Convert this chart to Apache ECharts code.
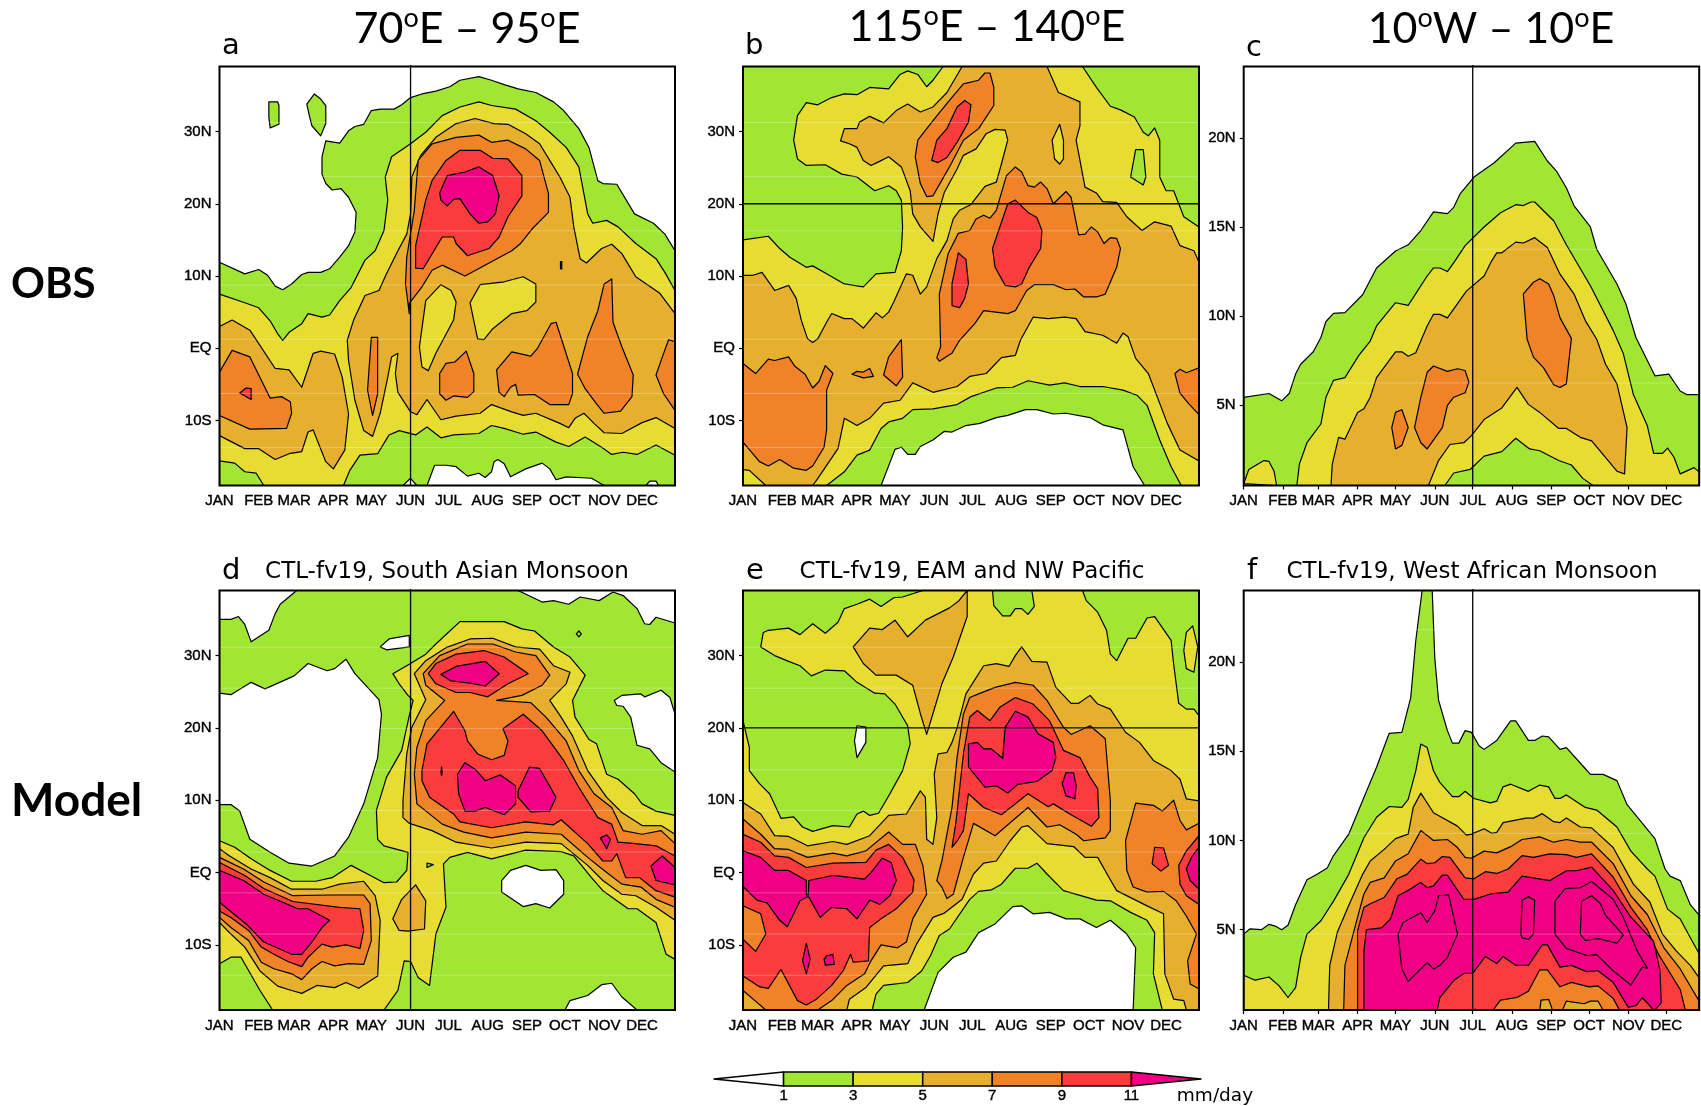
<!DOCTYPE html>
<html><head><meta charset="utf-8">
<style>html,body{margin:0;padding:0;background:#fff}#c{width:1701px;height:1106px}</style>
<script src="https://cdn.jsdelivr.net/npm/echarts@6/dist/echarts.min.js"></script></head>
<body><div id="c"></div>
<script>
const monthLabels=['JAN','FEB','MAR','APR','MAY','JUN','JUL','AUG','SEP','OCT','NOV','DEC'];
const monthDays=[0,31,59,90,120,151,181,212,243,273,304,334];
const latTicksWide=[-10,0,10,20,30];
const latTicksAfrica=[5,10,15,20];
const contourLevels=[1,3,5,7,9,11];
const bandColors={0:'#ffffff',1:'#A0E632',3:'#E6DC32',5:'#E6AF2D',7:'#F08228',9:'#FA3C3C',11:'#F00082'};

// Each entry: [lower contour level in mm/day, outline as [day of year, latitude] pairs]
const panelA=[
[1,[[0,11.9],[20,10.3],[31,10.9],[38,10.1],[44,8.6],[50,8.1],[57,8.9],[65,10.2],[70,10.5],[80,10.5],[87,11],[95,12.6],[102,14.2],[107,16.1],[108,18.8],[102,20.9],[96,22.1],[89,21.9],[84,22.8],[81,24.1],[81,26.5],[84,28.7],[95,28.4],[102,30.1],[107,30.7],[114,31],[120,32.9],[127,33.1],[138,33.1],[144,33.7],[151,34.7],[160,35.2],[171,35.6],[182,36.2],[190,37.1],[205,37.6],[215,37.1],[225,36.5],[236,35.9],[250,35.4],[264,34.1],[272,32.9],[284,30.4],[292,27.8],[299,23.2],[303,22.8],[314,22.7],[328,18.6],[343,17.3],[352,15.8],[360,13.5],[360,-19],[0,-19]]],
[0,[[164,-19],[170,-16.2],[179,-16.2],[187,-16.4],[196,-17.7],[205,-17.3],[210,-17.9],[215,-17.1],[217,-15.7],[220,-15.4],[225,-16],[230,-17.8],[242,-16.7],[255,-15.9],[261,-16.7],[266,-18.2],[274,-17.8],[294,-18],[304,-19]]],
[0,[[145,-19],[151,-18],[156,-19]]],
[0,[[337,-19],[340,-18.4],[345,-18.4],[347,-19]]],
[1,[[39,34.1],[46,34.1],[47,33.6],[47,31],[40,30.5],[39,32]]],
[1,[[69,33.8],[75,35.2],[80,34.5],[84,33.6],[84,31.1],[80,29.4],[73,30.8],[71,32.2]]],
[3,[[0,7.5],[20,6.3],[31,5.6],[40,3.8],[46,2],[50,1.1],[55,2.2],[65,3.4],[70,4.8],[81,4.3],[87,4.6],[95,6.6],[104,8.4],[115,12.2],[123,13.5],[130,16.3],[133,20.5],[131,23.7],[136,26.5],[151,28.3],[163,29.9],[176,32.2],[190,33.4],[205,34.1],[215,33.6],[234,33.1],[250,31.5],[261,29.9],[274,27.8],[284,25.1],[291,18.6],[295,17.3],[306,17.7],[315,16.8],[329,14.5],[345,12.4],[352,10.5],[360,8],[360,-14.8],[345,-13.4],[330,-14.7],[319,-14.4],[310,-14.7],[302,-13.7],[289,-12.3],[276,-13.6],[266,-13],[250,-11.6],[240,-11.9],[225,-11.1],[215,-10.7],[205,-11.8],[185,-12],[175,-12.4],[164,-10.9],[155,-12],[142,-11.4],[134,-12],[125,-14.6],[111,-14.8],[103,-16.9],[98,-19],[35,-19],[29,-17.3],[20,-17.1],[12,-15.9],[0,-15.6]]],
[5,[[0,3],[10,3.9],[24,2.5],[44,-2.8],[55,-3],[65,-5.4],[74,-0.7],[80,-0.4],[91,-0.8],[97,-4],[102,-9.1],[99,-14.1],[90,-16.7],[84,-15.7],[74,-11.3],[70,-11.6],[65,-14.3],[55,-14.6],[44,-15.4],[31,-13.9],[20,-13.9],[0,-12.1]]],
[5,[[101,1.1],[106,3.9],[115,7.3],[126,8],[132,10.3],[141,13.5],[148,15.8],[151,18.6],[152,23.7],[159,26.7],[171,29.2],[187,31.1],[202,31.8],[217,31.1],[228,31],[242,29.7],[253,28.3],[261,26],[269,23.7],[277,20.9],[280,16.8],[285,12.4],[290,11.8],[302,13.8],[310,14.4],[318,13.1],[329,9.9],[348,7.6],[360,4.8],[360,-11.1],[345,-9.6],[334,-10.3],[318,-11.8],[304,-11.7],[296,-10.4],[288,-9],[281,-9.7],[276,-11],[269,-10.4],[250,-9],[240,-9.3],[231,-8.8],[215,-7.8],[206,-9],[187,-9.4],[175,-9.9],[164,-7.1],[156,-9.2],[151,-8.8],[141,-6.1],[139,-3.5],[141,-0.7],[136,-1.2],[133,-4],[127,-9],[121,-12.2],[114,-11.4],[107,-7.2],[102,-1.7]]],
[3,[[158,0.2],[163,6.6],[175,8.8],[183,8],[187,6.4],[185,3.9],[171,-0.7],[165,-3.1],[160,-2.6]]],
[3,[[198,6.3],[206,8.8],[225,9.2],[240,9.9],[250,8.9],[250,6.4],[243,5.2],[231,4.8],[216,2.7],[209,1.2],[204,1.3]]],
[7,[[150,4.8],[147,8.9],[148,12.6],[154,19.1],[157,26],[168,28.3],[187,29.2],[205,29.5],[215,28.5],[228,28.8],[242,27.6],[253,26],[260,21.4],[260,18.8],[247,16.5],[238,14.5],[231,13.5],[212,11.7],[194,10],[176,11.5],[168,10.8],[160,8.5],[150,6.2]]],
[7,[[269.5,11],[270.5,11],[270.5,12],[269.5,12]]],
[7,[[0,-3.3],[10,-0.3],[24,-1.2],[40,-6.9],[49,-6.7],[56,-7.4],[57,-9],[53,-11.1],[24,-11.2],[0,-9.3]]],
[9,[[16,-6.2],[21,-5.5],[25,-5.6],[25,-7.1]]],
[7,[[120,1.5],[125,1.5],[125,-6.3],[121,-9.3],[117,-5.8]]],
[7,[[174,-3.5],[179,-2.1],[186,-1.9],[195,-0.4],[201,-3.5],[201,-6],[196,-6.8],[185,-6.6],[179,-7.2],[174,-6.3]]],
[7,[[219,-3],[231,-0.5],[246,-1.1],[251,-0.1],[262,3.4],[266,3.6],[279,-3.5],[279,-6.3],[276,-7.8],[261,-7.8],[249,-6.4],[236,-6.5],[234,-5],[230,-5.4],[225,-6.7],[221,-6.1]]],
[7,[[283,-3.6],[291,1.6],[299,5.2],[304,8.9],[310,9.6],[311,3.6],[318,0.2],[327,-3.7],[326,-6.7],[317,-8.7],[304,-9],[298,-7.7],[289,-5.6]]],
[7,[[360,0.9],[355,1.2],[350,-1.2],[345,-3.7],[351,-6.3],[360,-8.6]]],
[9,[[155,14.2],[163,20.5],[168,23.2],[179,26],[190,27.4],[206,27.4],[216,26.3],[228,26.2],[239,23.9],[239,21.1],[228,18.2],[221,15.4],[213,13.8],[196,12.8],[187,14.5],[185,15.4],[176,15.4],[161,11],[155,11.1]]],
[11,[[174,21.5],[180,23.9],[194,24.4],[205,25.1],[216,23.9],[221,21.1],[218,18.6],[212,17.5],[205,17.3],[198,18.6],[190,20.7],[185,20.6],[180,19.7],[175,20.5]]]
];

const panelB=[
[1,[[0,-19],[360,-19],[360,39],[0,39]]],
[0,[[109,-19],[120,-14],[125,-13.7],[130,-14.7],[136,-14.7],[140,-13.6],[150,-12.7],[159,-11.5],[165,-11.6],[176,-10.7],[187,-10.4],[200,-9.6],[209,-9.3],[223,-8.5],[232,-8.5],[245,-9.1],[255,-9],[274,-9.6],[284,-10.6],[300,-11.3],[308,-16.4],[317,-19]]],
[3,[[0,15],[20,15.5],[29,13.8],[37,12.6],[50,11.2],[55,11.4],[66,10.3],[80,8.9],[95,8.5],[105,10.3],[120,10.5],[125,13.5],[126,16.8],[125,20.5],[121,21.8],[115,22.5],[104,21.8],[90,23.7],[78,24.1],[65,25.4],[50,25.3],[43,26.2],[40,28.8],[43,32.2],[50,34],[59,33.7],[70,34.7],[80,35.2],[90,35.1],[100,36.1],[115,35.9],[124,37.9],[130,38.4],[138,37.9],[145,36.2],[150,37.1],[158,39],[268,39],[279,36.1],[290,33.5],[298,33],[309,32],[316,29.9],[320,29.4],[325,30.5],[329,28.8],[329,23.7],[334,21.8],[340,21.8],[348,18.2],[360,16.8],[360,-19],[346,-19],[338,-16.4],[329,-12.7],[319,-7.9],[311,-6.5],[300,-5.8],[284,-5.3],[266,-5.3],[254,-4.8],[242,-5.1],[225,-4.5],[213,-5.4],[200,-5.5],[180,-6.7],[169,-7.8],[150,-8.4],[134,-8.5],[126,-9.7],[115,-10.2],[109,-11.1],[100,-14.1],[90,-14.8],[80,-17.1],[66,-19],[0,-19]]],
[1,[[306,23.7],[310,27.5],[316,27.5],[318,23.7],[316,22.6]]],
[5,[[0,10.1],[8,10.1],[15,10.5],[25,8],[36,8.7],[42,6.9],[46,3.9],[51,1.3],[55,0.8],[59,1.3],[66,3.6],[70,4.8],[80,4.1],[86,4.1],[95,2.8],[105,4.9],[110,4.2],[115,5],[119,6.4],[129,10.3],[134,10.1],[140,7.5],[145,8.5],[153,12.4],[161,14.9],[166,17.9],[171,19.1],[180,19.9],[191,22.4],[200,23],[204,25.5],[209,28.8],[207,30.2],[199,30.3],[192,29.7],[184,27.6],[174,26.7],[169,24.8],[159,21.6],[154,18.6],[150,14.8],[140,16.8],[134,18.6],[132,21.8],[125,25.1],[115,26.5],[107,25.8],[101,25.3],[95,26],[90,27.8],[84,28.3],[77,28.7],[80,30.4],[90,30.4],[92,31.3],[100,32.1],[111,31.2],[121,32.9],[130,33.8],[140,32.7],[150,33.4],[161,35.4],[173,39],[240,39],[249,35.4],[266,34.1],[266,30.8],[263,28.8],[270,22.3],[279,21.5],[284,20.3],[295,20.2],[303,18.2],[315,16.3],[325,17.5],[338,16.9],[345,14.2],[356,13.5],[360,11.9],[360,-15.6],[345,-14.1],[335,-10.4],[320,-3.5],[310,-1.4],[304,1.6],[300,2.1],[295,0.7],[284,1.8],[270,2.3],[263,4.1],[254,4.3],[241,4.1],[229,4.3],[219,1.1],[215,-1],[204,-1.3],[192,-3.5],[179,-3.9],[169,-5.3],[150,-6.1],[134,-4.8],[124,-7.2],[111,-7.6],[100,-9.7],[90,-10.7],[80,-9.7],[75,-13.9],[58,-18.3],[55,-19],[18,-19],[5,-16.9],[0,-16.8]]],
[3,[[244,28.8],[250,31],[253,28.8],[253,26.2],[250,25.5],[246,26.2]]],
[7,[[136,26.5],[138,28.8],[150,31.5],[163,34.3],[174,36.6],[186,37.1],[191,38.1],[195,38.1],[198,36.1],[198,33.6],[186,30.4],[174,28.8],[163,25.1],[150,21.1],[145,21],[140,22.8]]],
[9,[[149,26],[153,28.8],[161,30.4],[169,33.4],[175,34.3],[180,33.7],[178,31.3],[169,28.5],[161,26.4],[154,25.7]]],
[7,[[153,-1.3],[156,0.2],[155,7.5],[162,13.1],[170,15.9],[179,16.3],[184,17.9],[190,18.4],[195,18],[200,19.1],[208,23.9],[215,25.1],[220,24.4],[225,22.5],[230,22.3],[235,23],[240,22.1],[245,20],[255,21.7],[259,20.9],[265,15.7],[270,15.8],[275,16.8],[280,16.1],[285,14.5],[290,15.3],[295,15.2],[298,13.8],[295,11.2],[286,7.5],[279,7.1],[269,7.1],[262,8.2],[255,8.1],[245,8.8],[230,8.8],[224,8],[215,5.2],[209,4.8],[190,5.2],[183,3.4],[171,1.1],[165,-0.7],[162,-1],[155,-1.8]]],
[9,[[165,8.9],[170,13.2],[176,12.3],[178,8.9],[175,6.9],[171,5.6],[165,5.9]]],
[9,[[197,13.8],[209,20],[215,20.5],[225,18.8],[232,18.1],[236,16.3],[235,13.8],[226,11.2],[220,8.9],[215,8.5],[207,8.7],[199,11.2]]],
[7,[[86,-3.6],[90,-3.2],[95,-3.3],[100,-2.8],[103,-3.9],[95,-4.1]]],
[7,[[111,-3.7],[115,-1.2],[125,1.2],[126,-4],[121,-5.2]]],
[7,[[0,-2.1],[10,-3.5],[20,-1.5],[25,-1.7],[36,-1.2],[41,-2.5],[49,-3.6],[55,-5.5],[60,-4.6],[65,-2.4],[71,-3.5],[66,-5.8],[66,-11.3],[64,-13.7],[55,-16.3],[50,-16.9],[40,-16.6],[29,-15.4],[20,-16.3],[13,-15.7],[0,-13]]],
[7,[[341,-3.5],[345,-2.9],[350,-3.4],[360,-2.7],[360,-9.2],[352,-7.7],[345,-6.2]]]
];

const panelC=[
[1,[[0,5.44],[20,5.66],[30,5.25],[36,5.66],[41,6.75],[45,7.3],[55,8],[61,8.8],[65,9.7],[71,10.15],[80,10.2],[94,11.2],[105,12.7],[120,13.65],[130,14],[140,14.8],[150,15.85],[161,15.75],[166,16.1],[171,16.85],[182,17.8],[198,18.6],[215,19.7],[230,19.8],[240,18.7],[247,18.15],[255,17.2],[261,16.2],[274,15],[279,13.75],[295,11.8],[302,10.7],[310,8.8],[325,6.65],[336,6.75],[345,5.8],[350,5.6],[360,5.6],[360,0.5],[0,0.5]]],
[3,[[0,0.6],[4,1.4],[16,1.9],[20,1.85],[24,1.3],[26,0.5]]],
[3,[[42,0.5],[44,1.7],[50,2.9],[61,3.95],[65,5.45],[71,6.4],[80,6.55],[91,7.8],[100,8.6],[105,9.45],[120,10.75],[130,10.6],[145,12.25],[150,12.7],[155,12.7],[161,12.5],[167,13.1],[175,13.95],[190,15],[203,15.8],[215,16.25],[221,16.2],[227,16.4],[230,16.4],[245,15.35],[255,14],[274,11.7],[292,9.2],[300,7.9],[308,5.6],[319,3.85],[324,2.3],[331,2.3],[335,2.6],[340,2.1],[345,1.15],[356,1.5],[360,1.25],[360,0.5]]],
[1,[[159,0.5],[166,1.2],[179,1.4],[190,2.15],[204,2.4],[215,3.15],[226,2.55],[234,2.45],[249,1.9],[259,1.65],[268,0.9],[276,0.5]]],
[5,[[69,0.5],[70,1.7],[75,3.2],[80,3.1],[90,4.6],[95,4.8],[100,5.45],[105,6.55],[120,8],[125,8],[130,7.75],[136,7.95],[145,9.45],[150,10.1],[155,10.1],[161,9.9],[176,11.4],[190,12.25],[196,13.1],[200,13.55],[204,13.55],[215,14.15],[221,14.1],[230,14.4],[240,13.85],[250,12.35],[261,11.25],[270,9.75],[279,8.7],[286,7.3],[295,6.2],[303,3.75],[301,1.15],[295,1.3],[275,3],[266,3.2],[255,3.7],[249,3.7],[234,4.6],[225,5.05],[216,6],[204,4.85],[190,4.2],[180,3.3],[174,2.9],[163,2.8],[154,1.9],[146,0.5]]],
[7,[[117,3.75],[120,4.6],[125,4.75],[130,3.75],[125,2.75],[120,2.55]]],
[7,[[135,3.75],[140,5.45],[145,6.85],[150,7.2],[161,6.9],[169,7.05],[175,6.95],[178,6.3],[175,5.7],[166,5.45],[161,5],[157,3.75],[145,2.55],[140,2.9]]],
[7,[[221,11.25],[229,11.9],[234,12.1],[241,11.8],[245,11.15],[250,9.9],[259,8.75],[255,6.2],[250,6],[245,6.15],[237,7.1],[229,7.7],[224,8.7]]]
];

const panelD=[
[1,[[0,-19],[360,-19],[360,39],[0,39]]],
[0,[[0,39],[61,39],[48,37.1],[44,35.8],[39,33.5],[25,31.9],[20,34.3],[15,35.4],[9,35],[0,35]]],
[0,[[236,39],[255,37.4],[264,37.6],[276,37.1],[285,38.1],[300,37.6],[311,38.8],[319,38.3],[330,36.5],[336,34.4],[340,34.3],[345,35.3],[360,34.5],[360,39]]],
[0,[[127,31.2],[134,32.3],[150,32.8],[150,31.2],[132,30.8]]],
[0,[[0,24.8],[9,24.6],[25,26.3],[36,25.4],[59,27.2],[70,28.9],[85,27.9],[91,28.2],[100,29.5],[107,27.5],[126,23.9],[128,21.9],[125,15.9],[114,9.5],[102,4.9],[91,2.3],[73,0.9],[55,1.3],[40,2.8],[24,4.6],[16,8.5],[9,9.4],[0,9.4]]],
[0,[[312,23.8],[318,24.5],[333,24.7],[336,24.3],[349,25.2],[356,24.2],[360,21.9],[360,13.9],[349,15.2],[340,17.1],[330,17.6],[325,21.5],[319,23],[314,23.1]]],
[0,[[223,-1.1],[230,0.3],[242,1],[254,0.3],[266,0.4],[272,-1.1],[272,-3],[261,-4.9],[250,-4.3],[240,-4.7],[223,-2.7]]],
[0,[[273,-19],[277,-17.7],[291,-17],[302,-15.5],[310,-15.3],[318,-17.2],[330,-19]]],
[1,[[282,33],[284,33.4],[286,33],[284,32.6]]],
[3,[[0,4.4],[12,3.5],[25,1.9],[40,0.3],[57,-1.2],[76,-1.2],[89,-0.7],[104,1],[117,-0.2],[130,-1.4],[140,-1.3],[148,0.3],[149,2.8],[130,3.7],[125,4.6],[124,8.6],[132,13.2],[144,16.9],[150,21.7],[153,23.8],[149,24.5],[142,26.1],[137,27.5],[150,28.8],[163,30.2],[171,31.6],[190,34.7],[225,34.7],[239,33.7],[249,33.4],[264,31.2],[277,29.8],[289,27.3],[279,23.8],[281,21.5],[292,18.4],[298,17.8],[306,13.6],[315,12.9],[328,10.9],[334,9.5],[345,8.5],[360,7.9],[360,-12],[353,-11.3],[345,-6.9],[330,-5],[323,-5],[303,-2.5],[294,-0.7],[280,2.3],[270,2.9],[242,3.1],[215,1.9],[196,2.8],[182,2.1],[177,1.2],[179,-4.8],[171,-8.5],[166,-15.6],[157,-14.5],[151,-12.3],[146,-12.2],[141,-16.3],[130,-19],[42,-19],[32,-16.3],[17,-11.7],[9,-11.7],[0,-12.6]]],
[1,[[164,1.3],[169,1.1],[164,0.7]]],
[5,[[0,3.3],[8,2.3],[25,0.5],[40,-0.7],[57,-2.3],[81,-2.3],[95,-1.6],[114,-1.2],[123,-3.2],[127,-6.6],[125,-14.3],[110,-16],[100,-15.2],[91,-15.9],[77,-15.6],[65,-16.7],[57,-16.3],[46,-15.7],[32,-13.6],[20,-10.3],[9,-8.5],[0,-6.9]]],
[7,[[0,2.1],[19,0.5],[35,-1.3],[58,-3.2],[89,-3.1],[114,-3.1],[119,-4.3],[120,-9.4],[114,-12.7],[102,-12.6],[91,-12.9],[81,-12.3],[73,-13.3],[65,-14.8],[57,-14],[43,-13.3],[33,-12.4],[23,-9.4],[9,-7.6],[0,-6.2]]],
[9,[[0,1.4],[20,-0.4],[35,-2.2],[58,-4],[95,-4.8],[111,-5],[114,-8],[111,-10.5],[100,-10],[89,-10.3],[81,-9.9],[70,-11.7],[65,-13],[54,-12.3],[43,-11.3],[33,-10.3],[23,-8],[9,-6.2],[0,-5.3]]],
[11,[[0,0.3],[19,-1.1],[35,-3],[62,-5],[70,-5],[87,-6.6],[81,-7.6],[73,-9.6],[65,-11.3],[57,-11.3],[35,-9.6],[21,-7.1],[0,-4.1]]],
[5,[[137,-6.4],[144,-3.7],[155,-1.7],[163,-3.9],[162,-7.8],[149,-8.1],[142,-8]]],
[5,[[145,7.6],[145,9.9],[148,16.4],[152,20.1],[163,23.9],[154,27.5],[163,29.3],[179,31.1],[198,32.3],[216,32.4],[234,31.2],[253,30.9],[264,28.6],[277,27.7],[274,26.1],[261,23.8],[270,21.5],[279,18.9],[291,14.1],[306,10.4],[318,8.3],[334,6.5],[349,6.5],[360,5.3],[360,-6.6],[345,-4.8],[329,-3.2],[318,-3],[303,-1.1],[291,1],[270,4],[242,4.2],[215,3.4],[187,4.2],[168,5.8],[150,6.8]]],
[7,[[154,13.6],[156,17.3],[163,21],[178,23.8],[163,25.9],[161,27.5],[174,30],[196,31.6],[216,31.6],[234,30.5],[250,30],[261,27.3],[255,25.9],[239,24.5],[219,23.8],[246,23.5],[258,21.5],[274,18.2],[284,14.1],[296,10.9],[310,9],[319,5.8],[334,5.3],[349,5.8],[360,4],[360,-4.8],[345,-3.7],[333,-2],[318,-1.6],[304,0.3],[291,2.1],[270,5.3],[242,5.6],[215,4.8],[193,5.6],[176,6.7],[156,9.5]]],
[9,[[165,27.5],[171,28.9],[187,30.2],[209,30.7],[225,29.8],[244,27.5],[228,26.1],[212,24.3],[198,24.9],[187,24.9],[171,26.1]]],
[11,[[175,27.4],[187,28.5],[210,29.2],[221,27.5],[210,25.8],[198,26.2],[183,26.5]]],
[9,[[160,14.1],[164,17.8],[185,22.3],[194,19.6],[196,18.2],[204,16.4],[215,15.6],[225,16.2],[228,18.2],[224,19.9],[240,21.9],[255,19.6],[272,15.5],[284,11.8],[299,7.6],[310,6.7],[315,4.2],[329,4],[345,3.7],[360,2.3],[360,-3.4],[345,-2.5],[332,-0.7],[321,-0.7],[314,2.6],[310,1.6],[303,1.6],[291,4],[270,7.3],[264,6.6],[242,7],[215,6.2],[190,7],[185,8.1],[166,10.4],[160,12.7]]],
[11,[[188,13.6],[194,15.2],[202,14.3],[210,12.7],[222,13.5],[234,12],[234,9.5],[225,8],[210,9],[202,8.5],[194,8.5],[189,10.9]]],
[11,[[236,11.3],[245,14.6],[253,14.4],[266,10.4],[261,8.5],[246,8.4],[236,10.4]]],
[11,[[301,4.8],[306,5.2],[309,4.6],[306,3.3]]],
[11,[[341,0.9],[350,2.3],[360,0.7],[360,-1.7],[345,-1.1]]],
[11,[[175,14],[175.5,14.6],[176,14],[175.5,13.4]]]
];

const panelE=[
[1,[[0,-19],[360,-19],[360,39],[0,39]]],
[0,[[143,-19],[154,-13.8],[166,-11.7],[176,-11],[186,-8.3],[199,-7.1],[213,-4.7],[220,-4.6],[229,-5.7],[242,-5.5],[255,-6.4],[266,-6.4],[279,-7.6],[290,-6.6],[303,-8.5],[310,-10.4],[308,-19]]],
[0,[[88,18.2],[90,20.3],[97,20.1],[97,18],[90,15.9]]],
[3,[[0,21],[5,17.3],[5,14.1],[13,12.3],[21,10.9],[30,7.5],[40,7.7],[47,6.3],[55,5.7],[71,6.5],[84,6.3],[90,8.1],[95,8.5],[100,7.9],[107,8.2],[116,10.9],[126,14.1],[132,17.8],[130,20.3],[120,23.3],[112,24.7],[104,24.8],[90,26.3],[80,27.9],[65,28],[54,27.2],[45,28.6],[36,29.2],[25,30],[14,31.2],[16,33.2],[20,33.5],[36,33.8],[45,32.9],[55,34.4],[65,33.1],[75,34.6],[80,36.5],[90,37.1],[100,37.8],[109,36.8],[119,38],[126,38.1],[142,39],[268,39],[271,37.6],[280,36],[287,33.5],[290,30.2],[295,29.3],[304,32.4],[310,32.4],[319,35.2],[325,35.4],[338,32.1],[340,28.8],[344,23.4],[350,22.6],[356,22.6],[360,21.7],[360,-19],[331,-19],[324,-14],[325,-8.3],[319,-6.6],[306,-5.5],[290,-3.9],[279,-3.8],[253,-2.5],[240,-0.2],[232,1.3],[225,0.6],[215,0.6],[204,-1.6],[196,-2.4],[186,-2.6],[179,-3.7],[163,-7.8],[155,-8.7],[148,-11.5],[141,-13.6],[130,-15.2],[111,-15.6],[105,-16.8],[102,-19],[0,-19]]],
[1,[[197,39],[198,36.9],[205,35.5],[211,35.5],[215,36.5],[220,36.5],[225,35.7],[230,36.8],[228,39]]],
[3,[[348,30.7],[350,33.2],[355,34.1],[359,31.2],[356,27.7],[350,28.2]]],
[5,[[87,31.2],[95,32.8],[100,33.8],[110,33.6],[120,34.9],[130,32.6],[144,34.9],[163,36.6],[170,37.5],[177,39],[177,35.4],[166,29.8],[157,26.1],[150,22],[145,19.1],[140,22],[134,25.9],[121,27.3],[105,27.3],[95,28.9]]],
[5,[[0,9.7],[14,8.1],[25,5.1],[36,5],[51,3.7],[71,4.3],[82,3.9],[100,5.1],[115,7.9],[129,8.1],[140,11.3],[144,10.4],[145,4.6],[150,3.9],[153,7.6],[151,13.6],[154,16.4],[161,16.6],[165,18],[169,20],[176,24.7],[190,28.6],[200,28.9],[210,28.5],[215,30],[220,31.2],[228,29.2],[240,29.1],[247,25.6],[259,23.4],[265,23.4],[274,24.5],[280,23.3],[290,22.6],[302,19.4],[313,18],[324,15.5],[338,14.1],[345,12.9],[350,10.2],[360,9.9],[360,-19],[350,-19],[348,-17.7],[340,-17.5],[333,-14],[332,-5.7],[319,-4.6],[295,-2.5],[291,-1.3],[280,2.1],[270,2.1],[261,3.6],[240,4],[225,6.5],[220,6.3],[211,4.4],[200,1.6],[190,1.3],[182,-0.2],[173,-3.7],[159,-5.6],[150,-6.2],[137,-9.9],[130,-12.6],[111,-12.9],[97,-15.9],[84,-17.5],[82,-19],[0,-19]]],
[7,[[0,7.4],[14,5.3],[25,3.3],[36,3.2],[51,2.1],[71,2.7],[82,2.3],[97,3],[115,5.6],[126,3.9],[136,3.9],[142,1],[145,-3],[134,-6.4],[129,-9.6],[122,-10.4],[109,-10],[101,-12.2],[96,-14],[82,-15.6],[70,-17.7],[59,-19],[18,-19],[8,-17.5],[0,-16.3]]],
[7,[[153,-1.1],[157,1.6],[165,9],[169,15.9],[174,21.9],[179,24.2],[186,24.7],[199,25.6],[215,26.3],[229,25.9],[240,23.8],[253,20.1],[259,19.1],[274,20.3],[286,18.5],[290,9.9],[290,5.8],[286,4.8],[269,4.4],[263,5.3],[250,6.6],[240,6.3],[225,9],[213,7.2],[199,5.1],[182,6.8],[174,2.1],[166,-3],[161,-3.6],[157,-2]]],
[7,[[302,4.4],[310,9.6],[324,9.3],[331,8.5],[340,10],[345,7.2],[350,5.9],[360,6.8],[360,-16.1],[353,-15.4],[351,-12.2],[358,-8.5],[350,-6],[342,-3.9],[332,-2.6],[319,-2.7],[308,-2],[303,0.3]]],
[9,[[165,3.5],[168,6.8],[174,16.4],[179,21.5],[185,22.4],[195,21],[203,22.9],[215,24.2],[229,23.3],[242,21],[253,16.9],[266,15.9],[274,13.2],[280,11.6],[281,7.6],[275,6.4],[258,8.1],[245,9.5],[241,9.1],[225,10.9],[215,9.5],[204,8],[190,9],[178,10.9],[174,5.8],[170,4.6]]],
[11,[[178,17.8],[185,18],[190,17.1],[196,17.1],[205,15.8],[207,20.1],[215,22.3],[225,21.5],[233,19.2],[245,18],[247,15.9],[244,14.1],[232,12.6],[217,12.2],[209,11],[200,12],[191,11.8],[178,14.6]]],
[11,[[252,12.3],[255,13.8],[261,13.8],[263,12],[262,10.2],[255,10.6]]],
[9,[[0,5.3],[14,4.2],[25,2.3],[36,2.1],[50,0.7],[71,1.3],[97,1.4],[105,3.1],[115,3.9],[126,2.1],[135,-1],[134,-2.7],[121,-5],[109,-6.4],[100,-7.6],[99,-12.2],[87,-12.4],[85,-11.3],[79,-13.6],[70,-15.6],[58,-17.5],[50,-18.3],[43,-17.7],[30,-13.4],[20,-16],[13,-15.8],[0,-14.3]]],
[7,[[0,-4.6],[14,-5.7],[18,-8.5],[10,-10.9],[0,-9.2]]],
[11,[[0,3],[14,2.1],[25,0.3],[36,0.3],[50,-1.1],[50,-3.1],[51.5,-3.1],[52,-1.1],[71,-0.4],[96,-0.9],[101,0],[110,2],[117,1.4],[121,-1.1],[116,-3.2],[108,-4.4],[100,-3.8],[90,-6.4],[82,-5],[70,-4.8],[61,-6.2],[52,-3.4],[50,-3.4],[45,-3.9],[35,-7.5],[29,-6.6],[19,-4.2],[11,-3.8],[0,-1.9]]],
[11,[[47,-12.2],[50,-9.8],[53,-12],[50,-14]]],
[11,[[64,-12],[66,-11.5],[71,-11.3],[72,-12.7],[65,-12.8]]],
[9,[[344,1],[350,3],[360,5.1],[360,-4.4],[350,-3.2],[345,-1.6]]],
[11,[[350,0.5],[354,2.1],[360,3.5],[360,-2.3],[353,-1.1]]],
[9,[[323,1.2],[325,3.5],[332,3.4],[336,1],[330,0.2]]]
];

const panelF=[
[1,[[0,4.75],[5,5.05],[14,5],[20,5.3],[25,5.2],[30,5],[35,5.25],[41,6.4],[50,7.8],[58,8.1],[66,8.45],[71,9.15],[83,10.35],[95,12.4],[105,14.1],[115,16],[125,16.05],[132,18],[136,21.2],[141,24],[149,24],[151,20.25],[154,17.85],[161,16.15],[165,15.45],[170,15.45],[175,16.15],[180,16.05],[186,15.3],[190,15.1],[200,15.6],[211,16.7],[215,16.7],[225,15.6],[230,15.6],[236,15.85],[241,15.8],[250,15.1],[255,15.2],[269,14.1],[274,13.7],[284,13.7],[295,13.35],[303,12],[325,10.1],[333,8.4],[337,8],[345,7.75],[353,6.4],[360,5.8],[360,0.5],[0,0.5]]],
[3,[[0,2.45],[9,2.17],[20,2.35],[28,1.85],[35,1.2],[41,1.75],[45,3.45],[50,4.75],[61,5.5],[71,6.6],[83,8.1],[95,10.15],[105,11.3],[115,11.9],[125,11.85],[130,12.3],[136,13.9],[140,15.4],[145,15.2],[150,13.9],[155,13.25],[165,12.45],[170,12.45],[175,12.75],[182,12.35],[195,12.1],[200,12.2],[205,13],[211,13.15],[225,12.75],[234,13.1],[241,13],[246,12.35],[250,12.35],[255,12.55],[270,11.85],[279,11.7],[295,10.75],[306,9.4],[319,8.4],[325,8],[335,6.15],[345,5.6],[353,4.55],[360,3.65],[360,0.5],[0,0.5]]],
[5,[[67,0.5],[68,3],[74,4.85],[83,6.35],[94,8.1],[100,8.85],[111,9.5],[120,10.1],[130,10.35],[134,11.85],[140,12.65],[150,11.55],[169,10.8],[176,10.3],[180,10.35],[190,10.65],[196,10.4],[200,10.45],[205,11],[216,11.15],[223,11.25],[229,11.25],[236,11.5],[245,11.05],[250,11],[255,11.25],[266,10.75],[275,10.7],[292,9.6],[308,7.55],[321,6.55],[331,4.75],[342,3.8],[353,3],[360,2.3],[360,0.5]]],
[7,[[79,0.5],[80,3],[90,5.7],[95,7],[100,7.65],[111,7.9],[120,8.85],[130,9.25],[140,10.55],[150,10],[161,10.05],[169,9.6],[175,9.05],[180,9],[190,9.4],[200,9.3],[211,9.65],[220,10.05],[234,10.2],[245,9.9],[255,10.05],[266,9.9],[275,9.9],[292,8.7],[306,6.9],[319,5.85],[332,4],[345,2.8],[360,1],[360,0.5]]],
[9,[[90,0.5],[90,4.95],[95,6.25],[100,6.45],[111,6.8],[121,7.85],[129,8.1],[140,8.95],[145,8.7],[151,8.75],[157,9.1],[163,9.05],[175,7.9],[182,7.85],[191,8.25],[200,8.15],[209,8.4],[220,9.15],[229,9.05],[242,9.25],[255,9.2],[263,9.05],[275,9.25],[292,7.95],[306,6.25],[319,5],[328,3.6],[345,1.65],[349,0.5]]],
[11,[[95,0.5],[95,3.8],[97,5],[109,5.1],[116,5.6],[122,6.9],[130,7.2],[140,7.65],[145,7.35],[150,7.45],[157,8.05],[161,8.05],[174,6.7],[182,6.7],[195,7],[209,7.1],[220,8],[242,7.75],[255,8.3],[263,8.3],[275,8.5],[292,7.2],[306,5.7],[324,4.35],[329,2.7],[330,0.9],[325,0.5]]],
[9,[[153,0.5],[155,1.2],[166,2.15],[174,2.55],[181,2.55],[191,3.5],[200,3.1],[205,3.5],[215,3],[225,3],[236,4.15],[240,4.15],[250,2.9],[259,3],[271,2.65],[280,2.7],[292,2.05],[304,0.65],[310,0.75],[315,1.2],[324,0.5]]],
[7,[[197,0.5],[203,1.05],[216,1.2],[225,1.55],[234,2.75],[240,2.75],[250,1.8],[259,2.05],[273,1.8],[280,1.85],[292,1.15],[297,0.5]]],
[5,[[234,0.5],[235,1.05],[241,1.1],[244,0.5]]],
[5,[[252,0.5],[255,1],[269,0.85],[274,1],[280,1],[284,0.5]]],
[11,[[122,4.75],[126,5.4],[140,5.95],[145,5.4],[151,6.05],[154,6.9],[162,6.95],[169,4.75],[161,3.45],[155,3],[150,2.8],[145,3.15],[130,2.1],[125,2.8]]],
[11,[[219,4.75],[220,6.65],[225,6.85],[230,6.65],[229,4.75],[225,4.45],[220,4.55]]],
[11,[[246,6.6],[254,7.3],[266,7.35],[275,7.7],[292,6.7],[300,5.7],[311,3.8],[319,2.85],[315,2.9],[306,1.9],[292,2.7],[279,3.6],[271,3.55],[255,3.95],[246,4.75]]],
[11,[[266,4.75],[267,6.6],[275,6.9],[282,6.45],[286,5.8],[300,4.7],[295,4.25],[280,4.5],[270,4.4]]]
];

// Faint resampling seams of the source image, by latitude
const seamLatsTop=[-13.75,-6.25,1.25,8.75,16.25,23.75,31.25];
const seamLatsBottom=[-14.2,-8.5,-2.8,2.85,8.6,14.2,19.9,25.5,31.15];
const seamLatsC=[6.25,13.75,21.25];
const seamLatsF=[4.75,10.4,21.8];

const panels=[
 {data:panelA,left:219.5,top:66.5,w:455.5,h:419,yMin:-19,yMax:39,ticks:latTicksWide,seams:seamLatsTop,vRef:151},
 {data:panelB,left:743,top:66.5,w:456,h:419,yMin:-19,yMax:39,ticks:latTicksWide,seams:seamLatsTop,hRef:20},
 {data:panelC,left:1243.7,top:66.5,w:455.5,h:419,yMin:0.5,yMax:24,ticks:latTicksAfrica,seams:seamLatsC,vRef:181},
 {data:panelD,left:219.5,top:590.5,w:455.5,h:419.5,yMin:-19,yMax:39,ticks:latTicksWide,seams:seamLatsBottom,vRef:151},
 {data:panelE,left:743,top:590.5,w:456,h:419.5,yMin:-19,yMax:39,ticks:latTicksWide,seams:seamLatsBottom,hRef:20},
 {data:panelF,left:1243.7,top:590.5,w:455.5,h:419.5,yMin:0.5,yMax:24,ticks:latTicksAfrica,seams:seamLatsF,vRef:181}
];

const axisFont={fontFamily:'Liberation Sans',fontSize:15,color:'#000',textBorderColor:'#000',textBorderWidth:0.4};
const latName=v=>v===0?'EQ':(v<0?(-v)+'S':v+'N');
const grids=[],xAxes=[],yAxes=[],series=[];
panels.forEach((p,i)=>{
  grids.push({left:p.left,top:p.top,width:p.w,height:p.h,show:false});
  xAxes.push({type:'value',gridIndex:i,min:0,max:360,splitLine:{show:false},
    axisLine:{show:false},
    axisTick:{show:true,customValues:monthDays,length:4,lineStyle:{color:'#000',width:1.2}},
    axisLabel:Object.assign({show:true,customValues:monthDays,margin:8,formatter:v=>monthLabels[monthDays.indexOf(v)]||''},axisFont)});
  yAxes.push({type:'value',gridIndex:i,min:p.yMin,max:p.yMax,splitLine:{show:false},
    axisLine:{show:false},
    axisTick:{show:true,customValues:p.ticks,length:4,lineStyle:{color:'#000',width:1.2}},
    axisLabel:Object.assign({show:true,customValues:p.ticks,margin:8,formatter:latName},axisFont)});
  series.push({type:'custom',xAxisIndex:i,yAxisIndex:i,clip:true,silent:true,z:2,animation:false,
    data:p.data.map(d=>d[1][0]),encode:{x:0,y:1},
    renderItem:(params,api)=>{
      const poly=p.data[params.dataIndex];
      return {type:'polygon',shape:{points:poly[1].map(q=>api.coord(q))},
        style:{fill:bandColors[poly[0]],stroke:'#000',lineWidth:1.2,lineJoin:'round'}};
    }});
  series.push({type:'custom',xAxisIndex:i,yAxisIndex:i,clip:true,silent:true,z:3,animation:false,
    data:p.seams.map(l=>[0,l]),encode:{x:0,y:1},
    renderItem:(params,api)=>{
      const a=api.coord([0,api.value(1)]),b=api.coord([360,api.value(1)]);
      return {type:'line',shape:{x1:a[0],y1:a[1],x2:b[0],y2:b[1]},style:{stroke:'rgba(255,255,255,0.28)',lineWidth:1}};
    }});
  const refPt=p.vRef!==undefined?[p.vRef,p.yMax]:[0,p.hRef];
  series.push({type:'custom',xAxisIndex:i,yAxisIndex:i,clip:false,silent:true,z:4,animation:false,
    data:[refPt],encode:{x:0,y:1},
    renderItem:(params,api)=>{
      let a,b;
      if(p.vRef!==undefined){a=api.coord([p.vRef,p.yMax]);b=api.coord([p.vRef,p.yMin]);a[1]-=1.5;}
      else{a=api.coord([0,p.hRef]);b=api.coord([360,p.hRef]);}
      return {type:'line',shape:{x1:a[0],y1:a[1],x2:b[0],y2:b[1]},style:{stroke:'#000',lineWidth:1.3}};
    }});
  series.push({type:'custom',xAxisIndex:i,yAxisIndex:i,clip:false,silent:true,z:5,animation:false,
    data:[[0,p.yMin]],encode:{x:0,y:1},
    renderItem:(params)=>{
      const c=params.coordSys;
      return {type:'rect',shape:{x:c.x,y:c.y,width:c.width,height:c.height},style:{fill:'none',stroke:'#000',lineWidth:2}};
    }});
});

// Colour bar
const cbIdx=panels.length;
grids.push({left:714,top:1072,width:487,height:14,show:false});
xAxes.push({type:'value',gridIndex:cbIdx,min:-1,max:13,splitLine:{show:false},axisLine:{show:false},axisTick:{show:false},
  axisLabel:Object.assign({customValues:contourLevels,margin:2},axisFont)});
yAxes.push({type:'value',gridIndex:cbIdx,min:0,max:1,show:false});
const cbCells=[[-1,1,0],[1,3,1],[3,5,3],[5,7,5],[7,9,7],[9,11,9],[11,13,11]];
series.push({type:'custom',xAxisIndex:cbIdx,yAxisIndex:cbIdx,clip:false,silent:true,z:2,animation:false,
  data:cbCells.map(c=>[c[0],0]),encode:{x:0,y:1},
  renderItem:(params,api)=>{
    const c=cbCells[params.dataIndex];
    let pts;
    if(c[0]===-1) pts=[[-1,0.5],[1,1],[1,0]];
    else if(c[1]===13) pts=[[11,1],[13,0.5],[11,0]];
    else pts=[[c[0],1],[c[1],1],[c[1],0],[c[0],0]];
    return {type:'polygon',shape:{points:pts.map(q=>api.coord(q))},style:{fill:bandColors[c[2]],stroke:'#000',lineWidth:1.5,lineJoin:'round'}};
  }});

const bigRich={a:{fontFamily:'Lato',fontSize:43,fontWeight:'normal',color:'#000',lineHeight:48},s:{fontFamily:'Lato',fontSize:27,fontWeight:'normal',color:'#000',verticalAlign:'top',lineHeight:48}};
function bigTitle(text,x,y){return {text,left:x,top:y,textAlign:'center',textStyle:{fontWeight:'normal',rich:bigRich}};}
function plain(text,x,y,font,size,weight,align){return {text,left:x,top:y,textAlign:align||'left',textVerticalAlign:'middle',textStyle:{fontFamily:font,fontSize:size,fontWeight:weight||'normal',color:'#000'}};}
const titles=[
 bigTitle('{a|70}{s|o}{a|E – 95}{s|o}{a|E}',462,0),
 bigTitle('{a|115}{s|o}{a|E – 140}{s|o}{a|E}',982,-2),
 bigTitle('{a|10}{s|o}{a|W – 10}{s|o}{a|E}',1486,0),
 plain('OBS',6,279,'Lato',42,'bold'),
 plain('Model',6,796,'Lato',46,'bold'),
 plain('a',217,41,'DejaVu Sans',29),
 plain('b',740,41,'DejaVu Sans',29),
 plain('c',1241,43,'DejaVu Sans',29),
 plain('d',217,566,'DejaVu Sans',29),
 plain('e',741,566,'DejaVu Sans',29),
 plain('f',1242,566,'DejaVu Sans',29),
 plain('CTL-fv19, South Asian Monsoon',442,567,'DejaVu Sans',23,'normal','center'),
 plain('CTL-fv19, EAM and NW Pacific',967,567,'DejaVu Sans',23,'normal','center'),
 plain('CTL-fv19, West African Monsoon',1467,567,'DejaVu Sans',23,'normal','center'),
 plain('mm/day',1210,1091,'DejaVu Sans',18.5,'normal','center')
];

const chart=echarts.init(document.getElementById('c'),null,{renderer:'canvas',width:1701,height:1106});
chart.setOption({backgroundColor:'#fff',animation:false,title:titles,grid:grids,xAxis:xAxes,yAxis:yAxes,series});
</script></body></html>
